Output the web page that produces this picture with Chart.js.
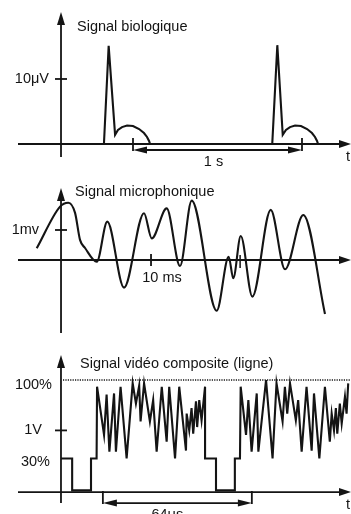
<!DOCTYPE html>
<html>
<head>
<meta charset="utf-8">
<script src="https://cdn.jsdelivr.net/npm/chart.js@4.4.1/dist/chart.umd.min.js"></script>
<style>
  html, body { margin: 0; padding: 0; background: #fff; }
  body { width: 351px; height: 514px; overflow: hidden; position: relative; }
  canvas { position: absolute; left: 0; display: block; }
</style>
</head>
<body>
<canvas id="bio" width="351" height="170" style="top:0px"></canvas>
<canvas id="micro" width="351" height="170" style="top:170px"></canvas>
<canvas id="video" width="351" height="174" style="top:340px"></canvas>
<script>
// --- Signal biologique (t en s, amplitude en µV)
const bioT = [0.254, 0.282, 0.320, 0.337, 0.361, 0.391, 0.426, 0.462, 0.491, 0.509, 0.521, 0.527,
              1.250, 1.280, 1.312, 1.331, 1.355, 1.385, 1.420, 1.456, 1.485, 1.503, 1.515, 1.521];
const bioV = [0, 15.1, 1.4, 2.15, 2.6, 2.85, 2.77, 2.3, 1.69, 1.08, 0.46, 0,
              0, 15.2, 1.4, 2.15, 2.6, 2.85, 2.77, 2.3, 1.69, 1.08, 0.46, 0];
const bioYTicks = [10];
const bioYLabels = ['10μV'];
const bioSpan = [0.426, 1.426];
const bioSpanLabel = '1 s';

// --- Signal microphonique (t en ms, amplitude en mV)
const micT = [-2.70, -0.11, 0.81, 1.56, 2.11, 2.67, 3.97, 5.14, 7.0, 9.22, 10.08, 11.74,
              13.22, 14.52, 17.3, 18.63, 19.14, 19.97, 21.26, 23.3, 24.89, 26.92, 29.33];
const micV = [0.39, 1.78, 1.91, 1.57, 0.67, 0.40, -0.06, 1.28, -0.92, 1.56, 0.72, 1.72,
              -0.2, 1.98, -1.69, 0.11, -0.61, 0.8, -1.22, 1.67, -0.31, 1.5, -1.8];
const micGlitchT = [19.9, 19.9];
const micGlitchV = [0.17, -0.27];
const micYTicks = [1];
const micYLabels = ['1mv'];
const micXTicks = [10];
const micXLabels = ['10 ms'];

// --- Signal vidéo composite (t en µs, niveau en %)
const vidT = [0, 4.8, 4.8, 12.9, 12.9, 15.3, 15.5, 18.5, 19.6, 20.8, 22.8, 23.6, 25.6, 28.2,
              30.8, 32.2, 33.6, 34.2, 35.7, 38.2, 39.6, 41.1, 43.3, 45.4, 46.5, 49.0, 50.8,
              53.7, 54.0, 55.1, 56.1, 56.8, 58.0, 58.5, 59.4, 60.4, 61.9, 61.9, 66.6, 66.6,
              74.7, 74.7, 76.9, 77.2, 79.5, 80.5, 81.9, 84.1, 84.8, 88.1, 90.9, 92.6, 95.2,
              96.2, 97.2, 98.4, 100.9, 101.9, 103.4, 105.5, 107.7, 108.7, 111.0, 113.4, 115.5,
              116.3, 117.3, 118.1, 118.7, 119.8, 120.6, 122.0, 122.7, 123.4];
const vidV = [30, 30, 1.5, 1.5, 30, 30, 94, 51, 87, 36, 88, 36, 94, 30,
              97, 79, 95, 63, 97, 63, 82, 36, 94, 45, 94, 30, 94,
              37, 70, 55, 75, 52, 81, 58, 82, 64, 94, 30, 30, 1.5,
              1.5, 30, 30, 94, 51, 82, 36, 88, 36, 100, 30, 97, 63,
              94, 70, 97, 64, 82, 36, 94, 37, 88, 30, 94, 45,
              70, 55, 75, 52, 79, 61, 85, 70, 97];
const vidYTicks = [100, 55, 30];
const vidYLabels = ['100%', '1V', '30%'];
const vidSpan = [18, 82];
const vidSpanLabel = '64μs';

const INK = '#141414';
const FONT = '14.5px "Liberation Sans", Arial, sans-serif';

function pts(xs, ys) {
    return xs.map((x, i) => ({ x: x, y: ys[i] }));
}

function arrowHead(ctx, x, y, dir, len, half) {
    ctx.beginPath();
    ctx.moveTo(x, y);
    if (dir === 'up') {
        ctx.lineTo(x - half, y + len);
        ctx.lineTo(x + half, y + len);
    } else if (dir === 'right') {
        ctx.lineTo(x - len, y - half);
        ctx.lineTo(x - len, y + half);
    } else {
        ctx.lineTo(x + len, y - half);
        ctx.lineTo(x + len, y + half);
    }
    ctx.closePath();
    ctx.fill();
}

// Axes fléchées, graduations et textes dessinés à partir des échelles
const sketchAxes = {
    id: 'sketchAxes',
    beforeDatasetsDraw(chart, args, o) {
        const ctx = chart.ctx, xs = chart.scales.x, ys = chart.scales.y, a = chart.chartArea;
        const ox = xs.getPixelForValue(0), oy = ys.getPixelForValue(0);
        ctx.save();
        ctx.strokeStyle = INK;
        ctx.fillStyle = INK;
        ctx.lineWidth = 1.8;
        // axe horizontal
        ctx.beginPath();
        ctx.moveTo(a.left + 18, oy);
        ctx.lineTo(a.right - 6, oy);
        ctx.stroke();
        arrowHead(ctx, a.right, oy, 'right', 12, 4);
        // axe vertical
        ctx.beginPath();
        ctx.moveTo(ox, a.top + o.axisBottom);
        ctx.lineTo(ox, a.top + o.axisTop + 6);
        ctx.stroke();
        arrowHead(ctx, ox, a.top + o.axisTop, 'up', 13, 4);
        // graduations
        (o.yMarks || []).forEach(v => {
            const y = ys.getPixelForValue(v);
            ctx.beginPath();
            ctx.moveTo(ox - 6, y);
            ctx.lineTo(ox + 6, y);
            ctx.stroke();
        });
        (o.xMarks || []).forEach(v => {
            const x = xs.getPixelForValue(v);
            ctx.beginPath();
            ctx.moveTo(x, oy - 6);
            ctx.lineTo(x, oy + 6);
            ctx.stroke();
        });
        // ligne pointillée
        if (o.dotted !== undefined) {
            const y = ys.getPixelForValue(o.dotted);
            ctx.save();
            ctx.lineWidth = 1.3;
            ctx.setLineDash([1.2, 1.2]);
            ctx.beginPath();
            ctx.moveTo(ox + 2, y);
            ctx.lineTo(a.right, y);
            ctx.stroke();
            ctx.restore();
        }
        // intervalle fléché
        if (o.span) {
            const x1 = xs.getPixelForValue(o.span[0]), x2 = xs.getPixelForValue(o.span[1]);
            const y = oy + o.spanDy;
            ctx.beginPath();
            ctx.moveTo(x1, y - 12); ctx.lineTo(x1, y + 1);
            ctx.moveTo(x2, y - 12); ctx.lineTo(x2, y + 1);
            ctx.moveTo(x1 + 8, y); ctx.lineTo(x2 - 8, y);
            ctx.stroke();
            arrowHead(ctx, x1, y, 'left', 14, 3.5);
            arrowHead(ctx, x2, y, 'right', 14, 3.5);
        }
        ctx.restore();
    },
    afterDraw(chart, args, o) {
        const ctx = chart.ctx, xs = chart.scales.x, ys = chart.scales.y, a = chart.chartArea;
        const ox = xs.getPixelForValue(0), oy = ys.getPixelForValue(0);
        ctx.save();
        ctx.fillStyle = INK;
        ctx.font = FONT;
        ctx.textBaseline = 'middle';
        ctx.textAlign = 'left';
        ctx.fillText(o.title, o.titleX, a.top + o.titleY);
        ctx.textAlign = 'right';
        (o.yTicks || []).forEach((v, i) => {
            ctx.fillText(o.yLabels[i], ox - o.yGap[i], ys.getPixelForValue(v) + (o.yDy ? o.yDy[i] : 0));
        });
        ctx.textAlign = 'center';
        (o.xTicks || []).forEach((v, i) => {
            ctx.fillText(o.xLabels[i], xs.getPixelForValue(v) + 11, oy + 18);
        });
        if (o.span) {
            ctx.textBaseline = 'top';
            const xm = (xs.getPixelForValue(o.span[0]) + xs.getPixelForValue(o.span[1])) / 2;
            ctx.fillText(o.spanLabel, xm + o.spanLabelDx, oy + o.spanDy + 5);
        }
        ctx.textAlign = 'left';
        ctx.textBaseline = 'middle';
        if (o.tLabel) ctx.fillText('t', a.right - 5, oy + 13);
        ctx.restore();
    }
};

function makeChart(id, datasets, xr, yr, axes) {
    return new Chart(document.getElementById(id), {
        type: 'scatter',
        data: { datasets: datasets },
        options: {
            responsive: false,
            animation: false,
            devicePixelRatio: 1,
            layout: { padding: 0 },
            plugins: {
                legend: { display: false },
                tooltip: { enabled: false },
                sketchAxes: axes
            },
            scales: {
                x: { type: 'linear', display: false, min: xr[0], max: xr[1] },
                y: { type: 'linear', display: false, min: yr[0], max: yr[1] }
            },
            elements: { point: { radius: 0 } }
        },
        plugins: [sketchAxes]
    });
}

const lineStyle = { showLine: true, borderColor: INK, borderWidth: 2.1, pointRadius: 0, tension: 0, clip: false };

makeChart('bio',
    [Object.assign({ data: pts(bioT, bioV) }, lineStyle)],
    [-0.361, 1.716], [-4.0, 22.15],
    { axisTop: 12, axisBottom: 157, yMarks: bioYTicks, yTicks: bioYTicks, yLabels: bioYLabels, yGap: [12],
      span: bioSpan, spanDy: 6, spanLabel: bioSpanLabel, spanLabelDx: -4,
      title: 'Signal biologique', titleX: 77, titleY: 27, tLabel: true });

makeChart('micro',
    [Object.assign({ data: pts(micT, micV), cubicInterpolationMode: 'monotone' }, lineStyle),
     Object.assign({ data: pts(micGlitchT, micGlitchV) }, lineStyle, { borderWidth: 1.5 })],
    [-6.78, 32.22], [-2.667, 3.0],
    { axisTop: 18, axisBottom: 163, yMarks: micYTicks, yTicks: micYTicks, yLabels: micYLabels, yGap: [22],
      xMarks: micXTicks, xTicks: micXTicks, xLabels: micXLabels,
      title: 'Signal microphonique', titleX: 75, titleY: 22, tLabel: false });

makeChart('video',
    [Object.assign({ data: pts(vidT, vidV) }, lineStyle)],
    [-26.2, 124.6], [-19.6, 135.7],
    { axisTop: 15, axisBottom: 163, yMarks: [vidYTicks[1]], yTicks: vidYTicks, yLabels: vidYLabels,
      yGap: [9, 19, 11], yDy: [5, 0, 4], dotted: 100,
      span: vidSpan, spanDy: 11, spanLabel: vidSpanLabel, spanLabelDx: -10,
      title: 'Signal vidéo composite (ligne)', titleX: 80, titleY: 24, tLabel: true });
</script>
</body>
</html>
